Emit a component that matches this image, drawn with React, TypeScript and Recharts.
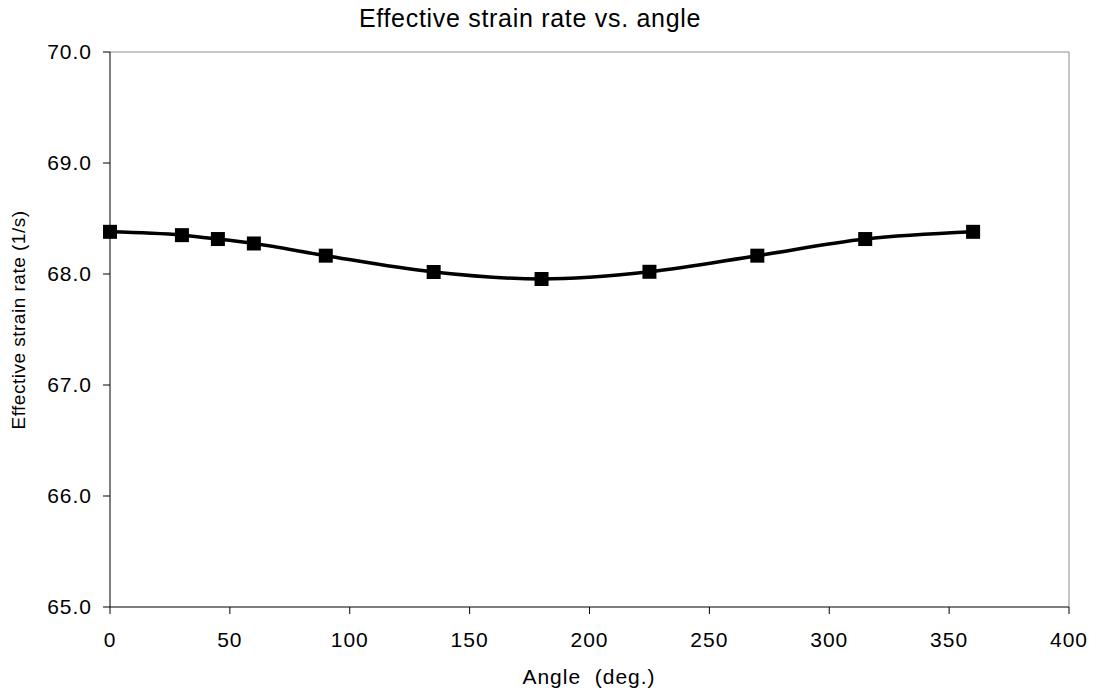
import React from "react";
import { LineChart, Line, XAxis, YAxis, ReferenceLine } from "recharts";

const angles = [0, 30, 45, 60, 90, 135, 180, 225, 270, 315, 360];
const strainRates = [68.38, 68.35, 68.315, 68.275, 68.165, 68.018, 67.955, 68.02, 68.165, 68.315, 68.38];
const xTicks = [0, 50, 100, 150, 200, 250, 300, 350, 400];
const yTicks = [65, 66, 67, 68, 69, 70];

const titleText = "Effective strain rate vs. angle";
const xLabelText = "Angle  (deg.)";
const yLabelText = "Effective strain rate (1/s)";

const data = angles.map((a, i) => ({ angle: a, rate: strainRates[i] }));

const FONT = "'Liberation Sans', Arial, sans-serif";

const SquareDot = (props: any) => {
  const { cx, cy } = props;
  if (cx == null || cy == null) return null;
  return <rect x={cx - 7} y={cy - 7} width={14} height={14} fill="#000" />;
};

export default function App() {
  return (
    <div style={{ position: "absolute", left: 0, top: 0, width: 1096, height: 696, background: "#fff" }}>
      <LineChart width={1096} height={696} data={data} margin={{ top: 52, right: 27, bottom: 0, left: 0 }}>
        <XAxis
          dataKey="angle"
          type="number"
          domain={[0, 400]}
          ticks={xTicks}
          height={89}
          axisLine={{ stroke: "#000", strokeWidth: 1 }}
          tickLine={{ stroke: "#000", strokeWidth: 1 }}
          tickSize={7}
          tickMargin={18}
          tick={{ fill: "#000", fontSize: 21, fontFamily: FONT, letterSpacing: 1 }}
          interval={0}
        />
        <YAxis
          type="number"
          domain={[65, 70]}
          ticks={yTicks}
          width={110}
          axisLine={{ stroke: "#000", strokeWidth: 1 }}
          tickLine={{ stroke: "#000", strokeWidth: 1 }}
          tickSize={7}
          tickMargin={11}
          tickFormatter={(v: number) => v.toFixed(1)}
          tick={{ fill: "#000", fontSize: 21, fontFamily: FONT, letterSpacing: 1 }}
          interval={0}
        />
        <ReferenceLine y={70} stroke="#8c8c8c" strokeWidth={1} />
        <ReferenceLine x={400} stroke="#8c8c8c" strokeWidth={1} />
        <Line
          type="monotone"
          dataKey="rate"
          stroke="#000"
          strokeWidth={3.5}
          dot={<SquareDot />}
          activeDot={false}
          isAnimationActive={false}
        />
      </LineChart>
      <svg
        width={1096}
        height={696}
        style={{ position: "absolute", left: 0, top: 0, pointerEvents: "none" }}
      >
        <text x={530} y={27} textAnchor="middle" fontSize={25} letterSpacing={0.7} fontFamily={FONT} fill="#000">
          {titleText}
        </text>
        <text
          x={589}
          y={684}
          textAnchor="middle"
          fontSize={21}
          letterSpacing={1}
          fontFamily={FONT}
          fill="#000"
          style={{ whiteSpace: "pre" }}
        >
          {xLabelText}
        </text>
        <text
          x={25}
          y={320}
          textAnchor="middle"
          fontSize={19}
          letterSpacing={0.5}
          fontFamily={FONT}
          fill="#000"
          transform="rotate(-90, 25, 320)"
        >
          {yLabelText}
        </text>
      </svg>
    </div>
  );
}
